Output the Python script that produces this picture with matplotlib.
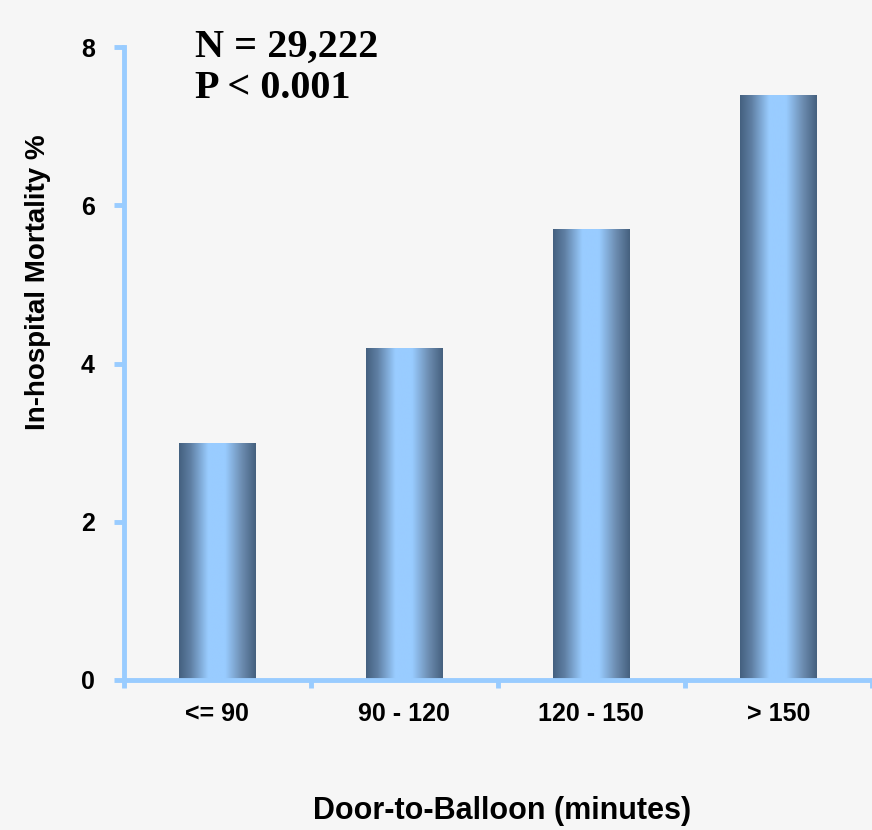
import numpy as np
import matplotlib
matplotlib.use('Agg')
import matplotlib.pyplot as plt
from matplotlib.colors import LinearSegmentedColormap

# data
categories = ['<= 90', '90 - 120', '120 - 150', '> 150']
mortality = [3.0, 4.2, 5.7, 7.4]
y_ticks = [0, 2, 4, 6, 8]

axis_blue = '#99ccff'
bg = '#f6f6f6'

fig = plt.figure(figsize=(8.72, 8.30), dpi=100)
fig.patch.set_facecolor(bg)
ax = fig.add_axes([0.142, 0.181, 0.858, 0.762])
ax.set_facecolor('none')

x = np.arange(len(categories))
bars = ax.bar(x, mortality, width=0.41, color='none', edgecolor='none')

# horizontal "cylinder" shading: dark edges, light blue centre
cmap = LinearSegmentedColormap.from_list('cyl', [
    (0.0, '#44607f'), (0.15, '#5f7fa3'), (0.38, '#99ccff'),
    (0.60, '#99ccff'), (0.82, '#6c8cb0'), (1.0, '#45607e')])
grad = np.linspace(0, 1, 256).reshape(1, -1)
for b in bars:
    x0, y0 = b.get_x(), b.get_y()
    im = ax.imshow(grad, cmap=cmap, aspect='auto', interpolation='bilinear',
                   extent=(x0, x0 + b.get_width(), y0, y0 + b.get_height()),
                   zorder=2)
    im.set_clip_path(b)

ax.set_xlim(-0.5, 3.5)
ax.set_ylim(0, 8)

for s in ['top', 'right']:
    ax.spines[s].set_visible(False)
for s in ['left', 'bottom']:
    ax.spines[s].set_color(axis_blue)
    ax.spines[s].set_linewidth(3.5)

ax.set_yticks(y_ticks)
ax.set_yticklabels([str(v) for v in y_ticks], fontsize=18, fontweight='bold',
                   family='Liberation Sans')
ax.tick_params(axis='y', color=axis_blue, width=3.5, length=7, pad=14)

ax.set_xticks(x)
ax.set_xticklabels(categories, fontsize=18, fontweight='bold', family='Liberation Sans')
ax.tick_params(axis='x', length=0, pad=16)
ax.set_xticks(np.arange(-0.5, 4.0, 1.0), minor=True)
ax.tick_params(axis='x', which='minor', color=axis_blue, width=3.5, length=6)

ax.set_xlabel('Door-to-Balloon (minutes)', fontsize=22, fontweight='bold',
              family='Liberation Sans')
ax.xaxis.set_label_coords(0.505, -0.183)
ax.set_ylabel('In-hospital Mortality %', fontsize=20, fontweight='bold',
              family='Liberation Sans')
ax.yaxis.set_label_coords(-0.097, 0.628)

fig.text(0.224, 0.965, 'N = 29,222\nP < 0.001', fontsize=29, fontweight='bold',
         family='Liberation Serif', ha='left', va='top', linespacing=1.15)

fig.savefig('out.png', dpi=100, facecolor=bg)
